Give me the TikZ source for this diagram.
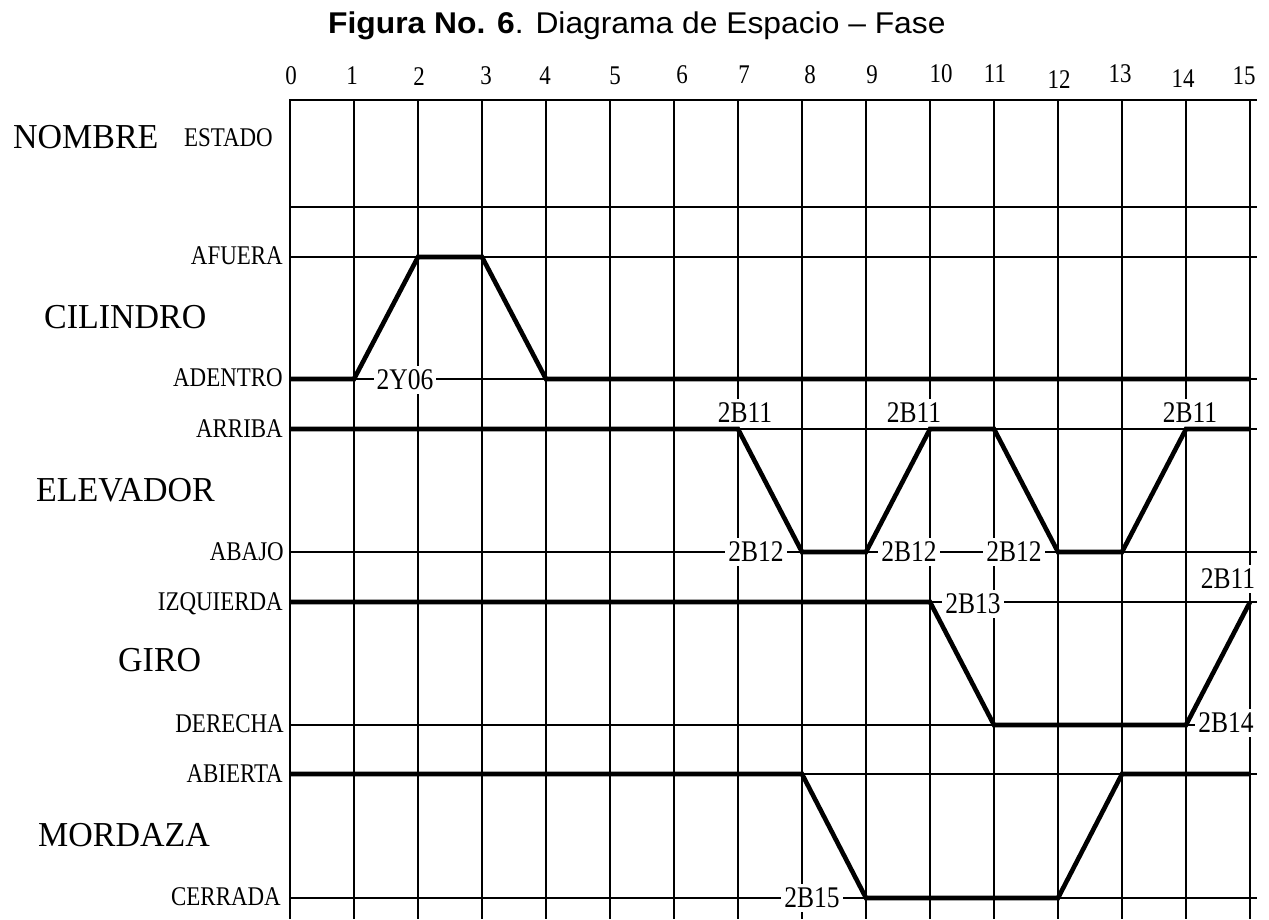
\documentclass[tikz,border=0pt]{standalone}
\usepackage{fontspec}
\setmainfont{Liberation Serif}
\newfontfamily\lblfont[FakeStretch=0.85]{Liberation Serif}
\newfontfamily\grpfont[FakeStretch=0.97]{Liberation Serif}
\newfontfamily\ttlfont[FakeStretch=1.06]{Liberation Sans}
\begin{document}
\begin{tikzpicture}[x=1pt,y=-1pt,
  gridline/.style={line width=1.3pt, black},
  trace/.style={line width=4.6pt, black, line join=miter},
  numlbl/.style={inner sep=0pt, text depth=0pt, font=\lblfont\fontsize{27}{27}\selectfont},
  statelbl/.style={inner sep=0pt, anchor=east, text depth=0pt, font=\lblfont\fontsize{27}{27}\selectfont},
  grplbl/.style={inner sep=0pt, anchor=west, text depth=0pt, font=\grpfont\fontsize{35}{35}\selectfont},
  siglbl/.style={fill=white, inner xsep=3pt, inner ysep=4pt, text depth=0pt, font=\lblfont\fontsize{30}{30}\selectfont}
]
\useasboundingbox (0,0) rectangle (1269,919);
\fill[white] (0,0) rectangle (1269,919);

% title
\node[inner sep=0pt, anchor=base west, font=\ttlfont\fontsize{30}{30}\selectfont] (title) at (328,33)
  {\textbf{Figura No. 6}. Diagrama de Espacio – Fase};

% top time numbers
\foreach \t/\cx/\cy in {0/291/76,1/352/76,2/419/77,3/486/76,4/545/76,5/615/76,6/682/75,7/744/75,8/810/75,9/872/75,10/941/74,11/995/74,12/1059/80,13/1120/74,14/1183/79,15/1244/76}
  \node[numlbl] (n\t) at (\cx,\cy) {\t};

% grid
\foreach \i in {0,...,15}
  \draw[gridline] ({290+64*\i},100) -- ({290+64*\i},919);
\foreach \yy in {100,207,257,379,429,552,602,725,774,898}
  \draw[gridline] (289.35,\yy) -- (1257,\yy);

% names
\node[grplbl] (nombre) at (13,137) {NOMBRE};
\node[statelbl] (estado) at (273,138) {ESTADO};
\node[grplbl] (cil) at (44,317) {CILINDRO};
\node[grplbl] (elev) at (36,490) {ELEVADOR};
\node[grplbl] (giro) at (118,660) {GIRO};
\node[grplbl] (mord) at (38,835) {MORDAZA};

% states
\node[statelbl] (afuera) at (283,256) {AFUERA};
\node[statelbl] (adentro) at (283,378) {ADENTRO};
\node[statelbl] (arriba) at (283,429) {ARRIBA};
\node[statelbl] (abajo) at (284,552) {ABAJO};
\node[statelbl] (izq) at (283,602) {IZQUIERDA};
\node[statelbl] (der) at (284,724) {DERECHA};
\node[statelbl] (abierta) at (283,774) {ABIERTA};
\node[statelbl] (cerrada) at (281,897) {CERRADA};

% signal labels
\node[siglbl] (s2y06) at (405,380) {2Y06};
\node[siglbl] (s2b11a) at (745,413) {2B11};
\node[siglbl] (s2b11b) at (914,413) {2B11};
\node[siglbl] (s2b11c) at (1190,413) {2B11};
\node[siglbl] (s2b12a) at (756,552) {2B12};
\node[siglbl] (s2b12b) at (909,552) {2B12};
\node[siglbl] (s2b12c) at (1014,552) {2B12};
\node[siglbl] (s2b11d) at (1228,579) {2B11};
\node[siglbl] (s2b13) at (973,604) {2B13};
\node[siglbl] (s2b14) at (1226,723) {2B14};
\node[siglbl] (s2b15) at (812,898) {2B15};

% traces
\draw[trace] (290,379) -- (354,379) -- (418,257) -- (482,257) -- (546,379) -- (1250,379);
\draw[trace] (290,429) -- (738,429) -- (802,552) -- (866,552) -- (930,429) -- (994,429)
  -- (1058,552) -- (1122,552) -- (1186,429) -- (1250,429);
\draw[trace] (290,602) -- (930,602) -- (994,725) -- (1186,725) -- (1250,602);
\draw[trace] (290,774) -- (802,774) -- (866,898) -- (1058,898) -- (1122,774) -- (1250,774);
\end{tikzpicture}
\end{document}
